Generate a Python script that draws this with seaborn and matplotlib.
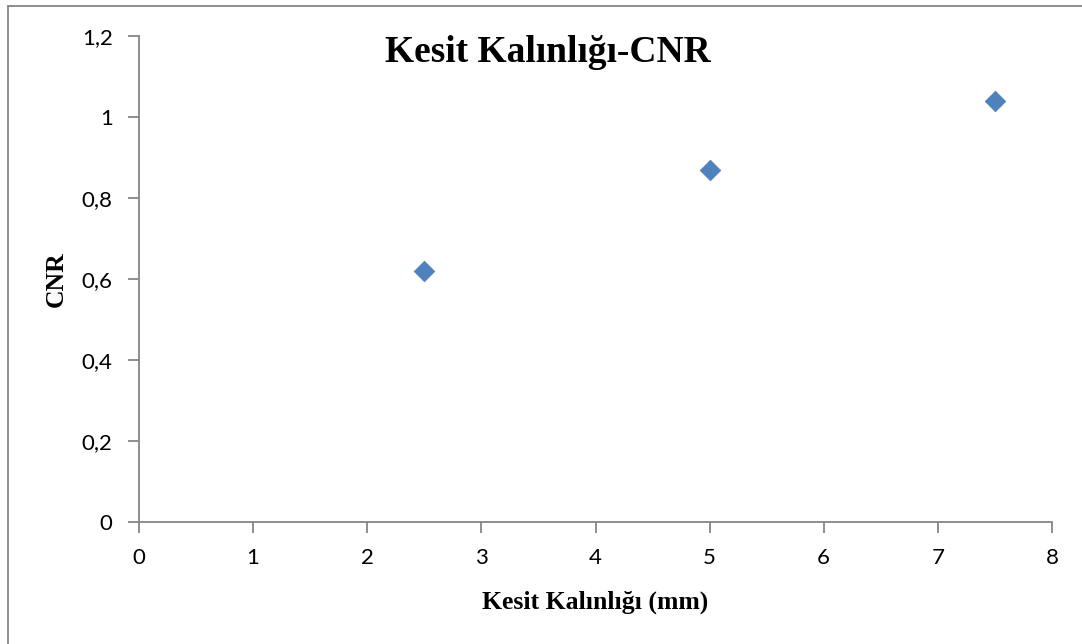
import matplotlib
matplotlib.use("Agg")
import matplotlib.pyplot as plt
import seaborn as sns
import pandas as pd
from matplotlib.lines import Line2D
from matplotlib.ticker import FuncFormatter, MultipleLocator

x_vals = [2.5, 5.0, 7.5]
cnr_vals = [0.62, 0.87, 1.04]
title = "Kesit Kalınlığı-CNR"
xlabel = "Kesit Kalınlığı (mm)"
ylabel = "CNR"

sns.set_theme(style="white")
plt.rcParams['font.family'] = ['Lato', 'DejaVu Sans']
plt.rcParams['text.color'] = 'black'
plt.rcParams['axes.labelcolor'] = 'black'

df = pd.DataFrame({"x": x_vals, "y": cnr_vals})

fig = plt.figure(figsize=(10.82, 6.44), dpi=100)
ax = fig.add_axes([139/1082, 1-522/644, (1052-139)/1082, (522-36)/644])

sns.scatterplot(data=df, x="x", y="y", ax=ax, marker="D", s=110,
                color="#4F81BD", edgecolor="#4A7EBB", linewidth=0.5, zorder=3)

ax.set_xlim(0, 8)
ax.set_ylim(0, 1.2)
ax.xaxis.set_major_locator(MultipleLocator(1))
ax.yaxis.set_major_locator(MultipleLocator(0.2))
fmt = FuncFormatter(lambda v, p: ("%g" % round(v, 2)).replace(".", ","))
ax.xaxis.set_major_formatter(fmt)
ax.yaxis.set_major_formatter(fmt)

for s in ["top", "right"]:
    ax.spines[s].set_visible(False)
for s in ["left", "bottom"]:
    ax.spines[s].set_color("#868686")
    ax.spines[s].set_linewidth(1.3)

ax.tick_params(axis="both", which="major", direction="out", length=8, width=1.3,
               color="#868686", labelsize=16, labelcolor="black", bottom=True, left=True)
ax.tick_params(axis="x", pad=11)
ax.tick_params(axis="y", pad=11)

ax.set_xlabel(xlabel, family="Liberation Serif", fontweight="bold", fontsize=18.5,
              labelpad=16, color="black")
ax.set_ylabel(ylabel, family="Liberation Serif", fontweight="bold", fontsize=18.5,
              labelpad=10, color="black")

fig.text(548/1082, 1-53/644, title, family="Liberation Serif", fontweight="bold",
         fontsize=27, ha="center", va="center", color="black")

# outer chart border (top and left visible)
fig.add_artist(Line2D([8/1082, 1], [1-5.5/644, 1-5.5/644], color="#868686", lw=1.3,
                      transform=fig.transFigure))
fig.add_artist(Line2D([8/1082, 8/1082], [0, 1-5.5/644], color="#868686", lw=1.3,
                      transform=fig.transFigure))

fig.savefig("out.png", dpi=100)
